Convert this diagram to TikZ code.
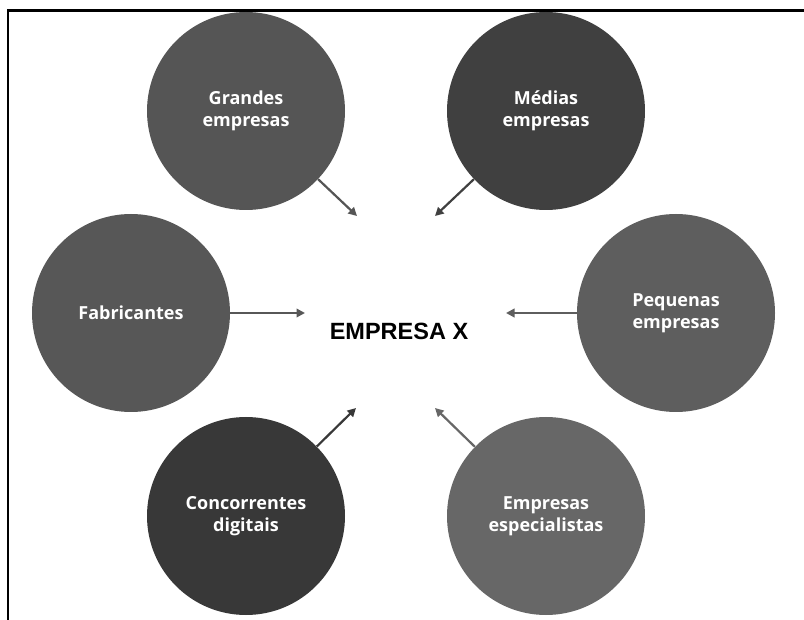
\documentclass[tikz,border=0pt]{standalone}
\usepackage{fontspec}
\setmainfont{Open Sans}
\newfontfamily\arialfont{Liberation Sans}
\usepackage{xcolor}
\definecolor{grandesgray}{HTML}{555555}
\definecolor{mediasgray}{HTML}{404040}
\definecolor{fabrgray}{HTML}{575757}
\definecolor{pequgray}{HTML}{5E5E5E}
\definecolor{concgray}{HTML}{383838}
\definecolor{especgray}{HTML}{676767}
\usetikzlibrary{arrows.meta}
\usetikzlibrary{positioning}

\begin{document}
\begin{tikzpicture}[x=1pt, y=-1pt,
    actor/.style={circle, minimum size=198pt, inner sep=0pt, text=white, align=center,
        font=\fontsize{18}{22.5}\selectfont\bfseries},
    link/.style={line width=2.2pt, -{Triangle[length=8.5pt, width=8.5pt]}}]

    \useasboundingbox (0,0) rectangle (804,620);

    % moldura
    \draw[line width=2.2pt] (8,620) -- (8,10.5) -- (804,10.5);

    % centro
    \node (empresa) at (399,331) {\arialfont\bfseries\fontsize{23.5}{28}\selectfont EMPRESA X};

    % circulos
    \node[actor, fill=grandesgray] (grandes) at (246,111) {Grandes\\empresas};
    \node[actor, fill=mediasgray] (medias) at (546,111) {Médias\\empresas};
    \node[actor, fill=fabrgray] (fabricantes) at (131,313) {Fabricantes};
    \node[actor, fill=pequgray] (pequenas) at (676,313) {Pequenas\\empresas};
    \node[actor, fill=concgray] (concorrentes) at (246,516) {Concorrentes\\digitais};
    \node[actor, fill=especgray] (especialistas) at (546,516) {Empresas\\especialistas};

    % pontas das setas
    \coordinate (tipgrandes) at (357,216);
    \coordinate (tipmedias) at (435,216);
    \coordinate (tipfabricantes) at (305,313);
    \coordinate (tippequenas) at (506,313);
    \coordinate (tipconcorrentes) at (356,408);
    \coordinate (tipespecialistas) at (435,408);

    \draw[link, draw=grandesgray] (grandes) -- (tipgrandes);
    \draw[link, draw=mediasgray] (medias) -- (tipmedias);
    \draw[link, draw=fabrgray] (fabricantes) -- (tipfabricantes);
    \draw[link, draw=pequgray] (pequenas) -- (tippequenas);
    \draw[link, draw=concgray] (concorrentes) -- (tipconcorrentes);
    \draw[link, draw=especgray] (especialistas) -- (tipespecialistas);

\end{tikzpicture}
\end{document}
